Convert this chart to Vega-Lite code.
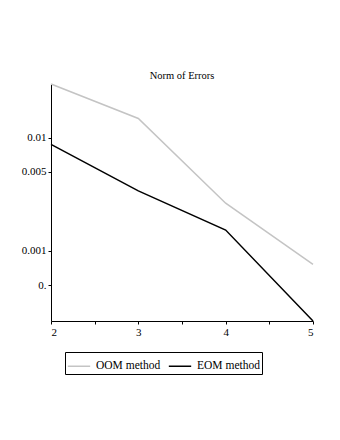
{
  "$schema": "https://vega.github.io/schema/vega-lite/v6.json",
  "width": 262,
  "height": 237,
  "autosize": {"type": "none"},
  "padding": {"left": 51, "top": 84, "right": 27, "bottom": 119},
  "background": "white",
  "config": {
    "view": {"stroke": null},
    "font": "Liberation Serif"
  },
  "title": {
    "text": "Norm of Errors",
    "font": "Liberation Serif",
    "fontSize": 10.5,
    "fontWeight": "normal",
    "color": "black",
    "offset": 0
  },
  "data": {
    "values": [
      {"n": 2, "err": 0.0298, "method": "OOM method"},
      {"n": 3, "err": 0.0148, "method": "OOM method"},
      {"n": 4, "err": 0.00264, "method": "OOM method"},
      {"n": 5, "err": 0.000763, "method": "OOM method"},
      {"n": 2, "err": 0.00874, "method": "EOM method"},
      {"n": 3, "err": 0.00339, "method": "EOM method"},
      {"n": 4, "err": 0.00153, "method": "EOM method"},
      {"n": 5, "err": 0.000241, "method": "EOM method"}
    ]
  },
  "mark": {"type": "line", "strokeWidth": 1.5},
  "encoding": {
    "x": {
      "field": "n",
      "type": "quantitative",
      "scale": {"domain": [2, 5], "nice": false, "zero": false},
      "axis": {
        "title": null,
        "grid": false,
        "values": [2, 2.5, 3, 3.5, 4, 4.5, 5],
        "labelExpr": "datum.value % 1 == 0 ? format(datum.value, 'd') : ''",
        "labelFont": "Liberation Serif",
        "labelFontSize": 11,
        "labelColor": "black",
        "domainColor": "black",
        "tickColor": "black",
        "tickSize": 3,
        "labelPadding": 2
      }
    },
    "y": {
      "field": "err",
      "type": "quantitative",
      "scale": {"type": "log", "domain": [0.000241, 0.0298], "nice": false},
      "axis": {
        "title": null,
        "grid": false,
        "values": [0.01, 0.005, 0.001, 0.0005],
        "labelExpr": "datum.value == 0.01 ? '0.01' : datum.value == 0.005 ? '0.005' : datum.value == 0.001 ? '0.001' : '0.'",
        "labelFont": "Liberation Serif",
        "labelFontSize": 11,
        "labelColor": "black",
        "domainColor": "black",
        "tickColor": "black",
        "tickSize": 3,
        "labelPadding": 2
      }
    },
    "color": {
      "field": "method",
      "type": "nominal",
      "scale": {"domain": ["OOM method", "EOM method"], "range": ["#c4c4c4", "#000000"]},
      "legend": {
        "title": null,
        "orient": "none",
        "legendX": 14,
        "legendY": 268,
        "direction": "horizontal",
        "symbolType": "stroke",
        "symbolSize": 500,
        "symbolStrokeWidth": 1.5,
        "labelFont": "Liberation Serif",
        "labelFontSize": 11.5,
        "labelColor": "black",
        "strokeColor": "black",
        "padding": 2,
        "columnPadding": 4,
        "labelOffset": 5
      }
    }
  }
}
